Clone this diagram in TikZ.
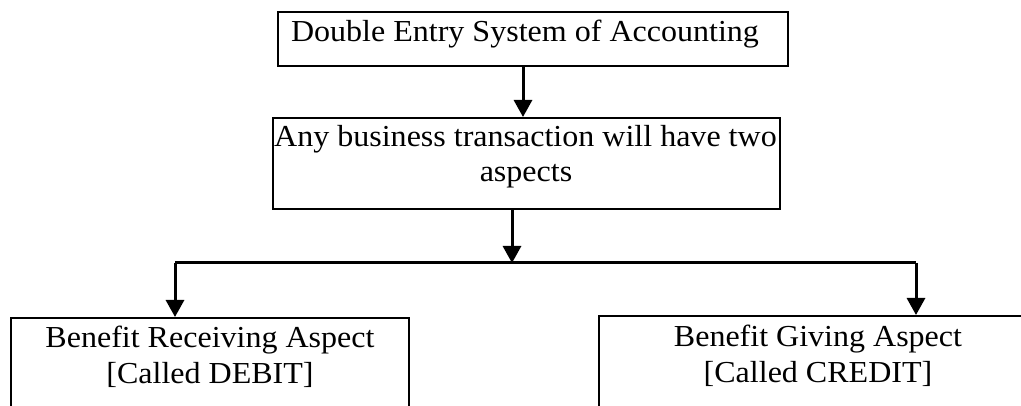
\documentclass[tikz,border=0pt]{standalone}
\usepackage{fontspec}
\setmainfont{Liberation Serif}
\newfontfamily\boxfont[FakeStretch=1.05]{Liberation Serif}
\usetikzlibrary{arrows.meta}

\begin{document}
\begin{tikzpicture}[x=1pt,y=-1pt,
  box/.style={draw, line width=1.8pt, rectangle, inner sep=0pt, anchor=north west},
  lbl/.style={anchor=base, inner sep=0pt, font=\boxfont\fontsize{30.5}{34}\selectfont},
  arr/.style={line width=3pt, -{Triangle[width=18pt,length=17pt]}},
  link/.style={line width=3pt}]
  \useasboundingbox (0,0) rectangle (1021,406);
  \clip (0,0) rectangle (1021,406);

  % boxes
  \node[box, minimum width=510pt, minimum height=54pt] (top) at (277,11) {};
  \node[box, minimum width=507pt, minimum height=91pt] (mid) at (272,117) {};
  \node[box, minimum width=398pt, minimum height=120pt] (left) at (10,317) {};
  \node[box, minimum width=440pt, minimum height=91pt] (right) at (598,315) {};

  % texts
  \node[lbl] (t1) at (525,42) {Double Entry System of Accounting};
  \node[lbl] (t2) at (525.5,147) {Any business transaction will have two};
  \node[lbl] (t3) at (526,182) {aspects};
  \node[lbl] (t4) at (210,348) {Benefit Receiving Aspect};
  \node[lbl] (t5) at (210,383) {[Called DEBIT]};
  \node[lbl] (t6) at (818,347) {Benefit Giving Aspect};
  \node[lbl] (t7) at (818,382) {[Called CREDIT]};

  % connectors
  \coordinate (a1) at (523,0);
  \coordinate (split) at (512,263);
  \coordinate (jl) at (175,263);
  \coordinate (jr) at (916,263);
  \draw[arr] (top.south -| a1) -- (mid.north -| a1);
  \draw[arr] (mid.south -| split) -- (split);
  \draw[link] (jl) -- (jr);
  \draw[arr] (jl) -- (jl |- left.north);
  \draw[arr] (jr) -- (jr |- right.north);
\end{tikzpicture}
\end{document}
